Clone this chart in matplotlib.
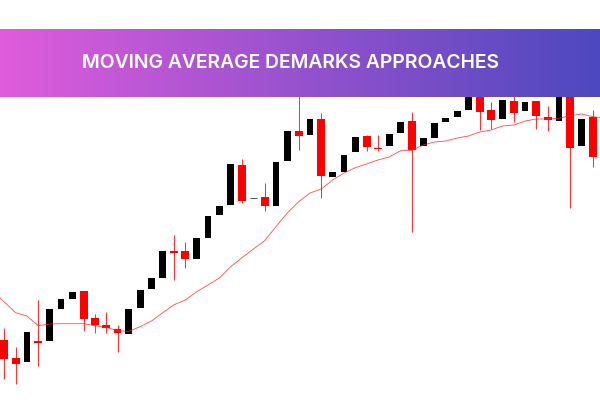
import matplotlib
matplotlib.use("Agg")
import matplotlib.pyplot as plt
import numpy as np
from matplotlib.colors import LinearSegmentedColormap

TITLE = "MOVING AVERAGE DEMARKS APPROACHES"

# candles, price scale runs 0-400 over the figure height
opens = [60, 42, 37.7, 59, 59, 91, 101, 109, 82, 75, 71, 66, 92, 111, 122, 149, 149, 141,
         162, 185, 195, 235, 202, 203, 194, 239, 269, 265, 281, 223, 228, 248, 264, 252.5,
         254, 267, 279, 254, 262, 278, 283, 290, 310, 290, 281, 299, 289, 299, 283, 279,
         310, 254, 283]
closes = [41.3, 36, 68.3, 57, 91, 101, 108, 81, 75, 72, 67, 91, 110, 122, 149, 147, 141, 162,
          184, 194, 236, 199, 202, 194, 238, 269, 264, 281, 224, 228, 245, 263, 253, 251.5,
          266, 278, 250, 262, 277, 282, 289, 310, 288, 280, 300, 287, 298, 284, 280, 303,
          252, 281, 243]
highs = [72, 53, 68.3, 100, 91, 101, 108, 109, 86, 88, 75, 91, 110, 122, 149, 165, 158, 162,
         184, 194, 236, 241, 202, 217, 238, 269, 310, 281, 287, 228, 245, 263, 265, 265,
         266, 278, 288, 262, 277, 282, 289, 310, 310, 298, 300, 310, 298, 299, 294, 303,
         310, 281, 290]
lows = [21, 16, 37.7, 34, 59, 91, 101, 69, 67, 67, 48, 66, 92, 111, 122, 120, 132, 141,
        162, 185, 195, 197, 202, 189, 194, 239, 250, 265, 202, 223, 228, 248, 249, 249,
        254, 267, 168, 254, 262, 278, 283, 290, 270, 271, 281, 278, 289, 271, 269, 279,
        192, 254, 233]

# moving average, starts one bar before the first candle and ends one after the last
ma_values = [109, 98, 87.3, 84, 74.3, 76, 76.3, 76.3, 76.3, 74.3, 72.7, 69.3, 68.7, 73.3, 79,
             87.3, 95.3, 100, 108.3, 115, 122, 133.3, 142.3, 151, 159.3, 173.3, 187, 198.3,
             207, 211, 220, 227, 232.3, 236, 240, 243, 249.3, 249.7, 255, 258, 259, 262, 264,
             268, 270, 274, 275, 279, 281, 281, 281.7, 284.3, 286, 283.3, 282]

fig = plt.figure(figsize=(6, 4), dpi=100, facecolor="white")
ax = fig.add_axes([0, 0, 1, 1])
ax.set_xlim(-0.38, 52.62)
ax.set_ylim(0, 400)
ax.axis("off")

x = np.arange(len(opens))
opens_a = np.array(opens)
closes_a = np.array(closes)
up = closes_a > opens_a
down = closes_a < opens_a
flat = closes_a == opens_a

ax.vlines(x[down], np.array(lows)[down], np.array(highs)[down],
          color="#ff0000", alpha=0.8, linewidth=0.75, zorder=2)
ax.bar(x[down], (opens_a - closes_a)[down], bottom=closes_a[down], width=0.7,
       color="#ff0000", linewidth=0, zorder=3)
ax.bar(x[up], (closes_a - opens_a)[up], bottom=opens_a[up], width=0.6,
       color="black", linewidth=0, zorder=3)
ax.hlines(opens_a[flat], x[flat] - 0.29, x[flat] + 0.29, color="#555555", linewidth=0.75, zorder=3)

ax.plot(np.arange(-1, len(ma_values) - 1), ma_values, color="#ff2020", alpha=0.8, linewidth=0.6, zorder=4)

# title banner
banner = fig.add_axes([0, 303 / 400, 1, 68 / 400])
cmap = LinearSegmentedColormap.from_list("banner", ["#e05cdc", "#4d48bf"])
banner.imshow(np.linspace(0, 1, 600).reshape(1, -1), aspect="auto", cmap=cmap)
banner.axis("off")
banner.text(0.484, 0.5, TITLE, transform=banner.transAxes, color="white", ha="center", va="center",
            fontsize=13.9, fontweight="semibold", family="Inter")

fig.savefig("out.png", dpi=100)
